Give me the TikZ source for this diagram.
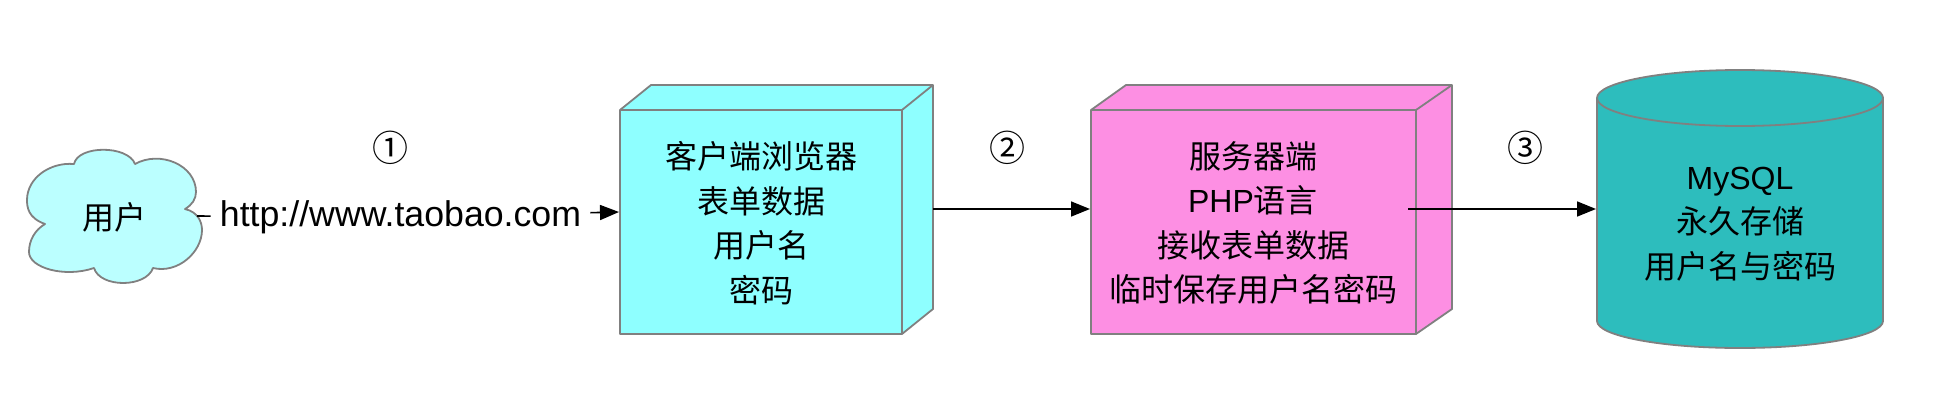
\documentclass[tikz,border=0pt]{standalone}
\usepackage{fontspec}
\setmainfont{Liberation Sans}
\newfontfamily\cjk{Noto Sans CJK SC}
\usetikzlibrary{arrows.meta}
\definecolor{edgegray}{HTML}{808080}
\definecolor{cloudblue}{HTML}{BBFFFF}
\definecolor{boxcyan}{HTML}{8EFFFF}
\definecolor{boxpink}{HTML}{FD8FE3}
\definecolor{dbteal}{HTML}{2DBDBD}
\tikzset{
    outline/.style = {draw = edgegray, line width = 1.8pt, line join = round},
    caption/.style = {align = center, font = \fontsize{32}{44.5}\selectfont\cjk, inner sep = 0pt},
    marker/.style = {font = \fontsize{36}{36}\selectfont\cjk, inner sep = 0pt},
    urltext/.style = {font = \fontsize{35.7}{44}\selectfont\rmfamily, anchor = base, inner xsep = 9pt, inner ysep = 0pt},
    stub/.style = {line width = 1.6pt},
    link/.style = {-{Triangle[length = 19pt, width = 15pt]}, line width = 1.6pt},
}
\newcommand{\lat}[1]{{\fontsize{32}{44.5}\selectfont\rmfamily #1}}
\begin{document}
\begin{tikzpicture}[x = 1pt, y = -1pt]
    \useasboundingbox (0, 0) rectangle (1938, 404);
    % cloud
    \draw[outline, fill = cloudblue] (45, 224)
        .. controls (28, 218) and (27, 207) .. (27, 200)
        .. controls (27, 178) and (50, 162) .. (74, 164)
        .. controls (78, 145) and (128, 145) .. (135, 164)
        .. controls (160, 150) and (196, 165) .. (196, 192)
        .. controls (196, 199) and (192, 205) .. (185, 209)
        .. controls (198, 212) and (202, 222) .. (202, 230)
        .. controls (202, 252) and (178, 274) .. (153, 268)
        .. controls (146, 288) and (100, 288) .. (94, 268)
        .. controls (65, 278) and (29, 268) .. (29, 252)
        .. controls (29, 240) and (35, 230) .. (45, 224) -- cycle;
    \node[caption] (user) at (114, 217) {用户};
    \coordinate (userout) at (197, 216);
    % client box
    \draw[outline, fill = boxcyan] (620, 110) -- (651, 85) -- (933, 85) -- (933, 309) -- (902, 334) -- (620, 334) -- cycle;
    \draw[outline] (620, 110) -- (902, 110) -- (933, 85);
    \draw[outline] (902, 110) -- (902, 334);
    \node[caption] (client) at (761, 223) {客户端浏览器\\表单数据\\用户名\\密码};
    \coordinate (clientin) at (619, 212);
    \coordinate (clientout) at (933, 209);
    % server box
    \draw[outline, fill = boxpink] (1091, 110) -- (1126, 85) -- (1452, 85) -- (1452, 309) -- (1416, 334) -- (1091, 334) -- cycle;
    \draw[outline] (1091, 110) -- (1416, 110) -- (1452, 85);
    \draw[outline] (1416, 110) -- (1416, 334);
    \node[caption] (server) at (1253, 223) {服务器端\\\lat{PHP}语言\\接收表单数据\\临时保存用户名密码};
    \coordinate (serverin) at (1090, 209);
    \coordinate (serverout) at (1408, 209);
    % database
    \draw[outline, fill = dbteal] (1597, 98) -- (1597, 321) arc[start angle = 180, end angle = 0, x radius = 143, y radius = 27] -- (1883, 98) arc[start angle = 360, end angle = 180, x radius = 143, y radius = 28] -- cycle;
    \draw[outline] (1597, 98) arc[start angle = 180, end angle = 0, x radius = 143, y radius = 28];
    \node[caption] (db) at (1740, 224) {\lat{MySQL}\\永久存储\\用户名与密码};
    \coordinate (dbin) at (1596, 209);
    % links
    \node[urltext] (url) at (400.5, 226.5) {http://www.taobao.com};
    \draw[stub] (userout) -- (url);
    \draw[link] (url) -- (clientin);
    \draw[link] (clientout) -- (serverin);
    \draw[link] (serverout) -- (dbin);
    \node[marker] (one) at (390, 148) {①};
    \node[marker] (two) at (1007, 148) {②};
    \node[marker] (three) at (1525, 148) {③};
\end{tikzpicture}
\end{document}
